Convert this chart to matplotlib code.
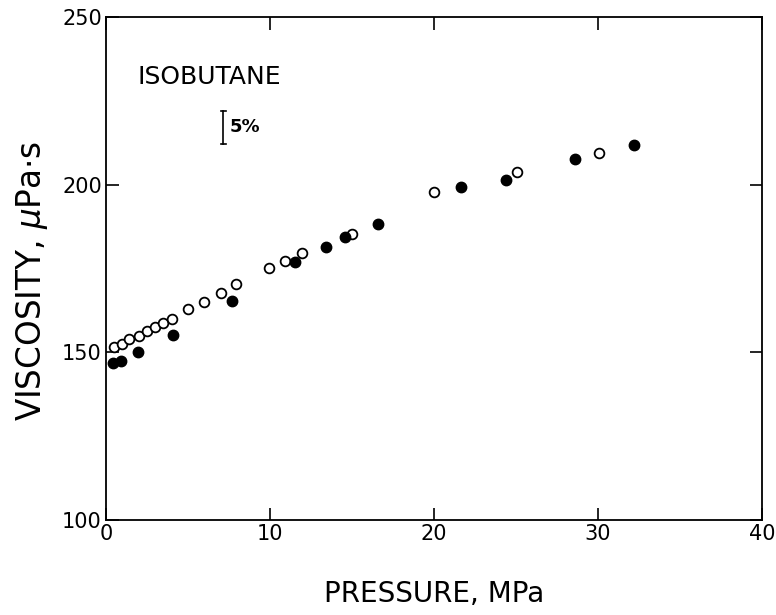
import matplotlib
matplotlib.use("Agg")
import matplotlib.pyplot as plt

plt.rcParams['font.family'] = ['DejaVu Sans']
plt.rcParams['mathtext.fontset'] = 'dejavusans'

# open circles
open_p = [0.49, 0.98, 1.38, 2.01, 2.48, 3.01, 3.5, 4.0, 4.98, 6.0, 7.01, 7.95,
          9.96, 10.9, 11.97, 15.0, 20.0, 25.08, 30.06]
open_v = [151.6, 152.4, 153.9, 155.0, 156.5, 157.4, 158.7, 159.8, 162.8, 165.1, 167.8, 170.3,
          175.0, 177.2, 179.5, 185.4, 197.7, 203.8, 209.3]
# filled circles
fill_p = [0.45, 0.91, 1.95, 4.06, 7.66, 11.52, 13.4, 14.55, 16.56, 21.67, 24.39, 28.6, 32.2]
fill_v = [146.8, 147.5, 150.2, 155.3, 165.3, 176.9, 181.4, 184.3, 188.3, 199.2, 201.5, 207.5, 211.7]

xticks = [0, 10, 20, 30, 40]
yticks = [100, 150, 200, 250]

fig = plt.figure(figsize=(7.76, 6.15), dpi=100)
ax = fig.add_axes([0.1366, 0.1545, 0.8454, 0.8179])

ax.plot(open_p, open_v, 'o', mfc='white', mec='black', mew=1.3, ms=7, ls='none')
ax.plot(fill_p, fill_v, 'o', mfc='black', mec='black', ms=7.5, ls='none')

ax.set_xlim(0, 40)
ax.set_ylim(100, 250)
ax.set_xticks(xticks)
ax.set_yticks(yticks)
ax.tick_params(direction='in', length=9, width=1.2, top=True, right=True,
               labelsize=15, pad=3)
for s in ax.spines.values():
    s.set_linewidth(1.3)

ax.set_xlabel('PRESSURE, MPa', fontsize=20, labelpad=26)
ax.set_ylabel(r'VISCOSITY, $\mu$Pa$\cdot$s', fontsize=23.5)
ax.yaxis.set_label_coords(-0.086, 0.475)

ax.text(1.93, 232.1, 'ISOBUTANE', fontsize=18, va='center', ha='left')
ax.plot([7.15, 7.15], [212.1, 222.0], color='black', lw=1.2)
ax.plot([7.0, 7.3], [212.1, 212.1], color='black', lw=1.2)
ax.plot([7.0, 7.3], [222.0, 222.0], color='black', lw=1.2)
ax.text(7.55, 217.1, '5%', fontsize=13, fontweight='bold', va='center', ha='left')

fig.savefig('out.png', dpi=100)
